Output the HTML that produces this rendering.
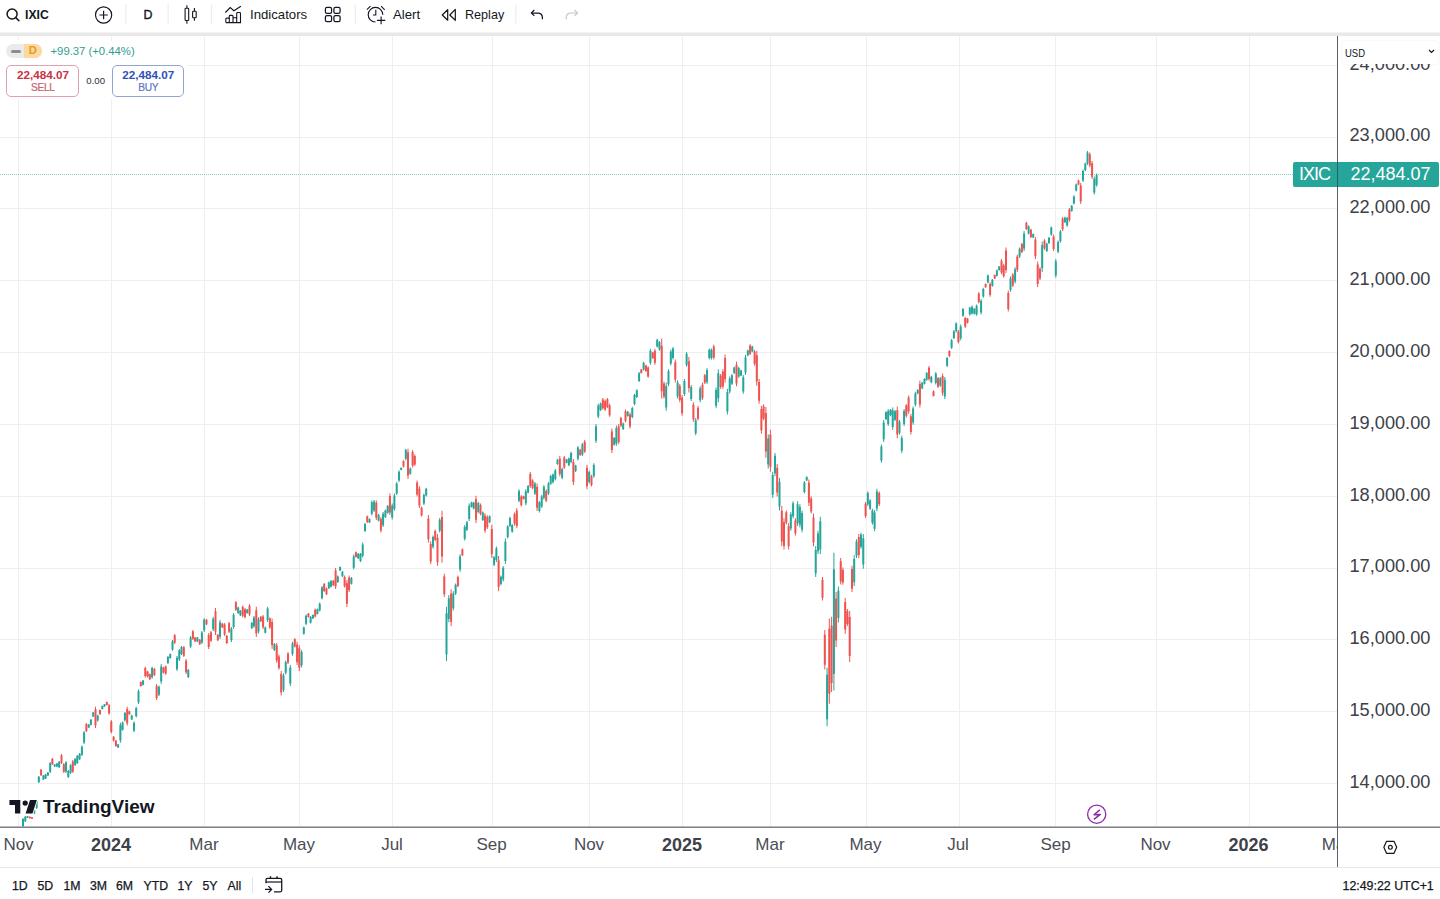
<!DOCTYPE html>
<html><head><meta charset="utf-8">
<style>
*{box-sizing:border-box;margin:0;padding:0}
html,body{width:1440px;height:899px;overflow:hidden;background:#fff;font-family:"Liberation Sans",sans-serif;color:#131722}
.abs{position:absolute}
#svg{position:absolute;left:0;top:0}
.tb{position:absolute;top:0;height:32px;display:flex;align-items:center;font-size:13px;color:#131722;white-space:nowrap}
.sep{position:absolute;top:5px;width:1px;height:19px;background:#e0e3eb}
.pl{position:absolute;right:9.6px;width:120px;text-align:right;font-size:18.2px;line-height:22px;color:#3d4047;white-space:nowrap}
.tl{position:absolute;top:834px;width:80px;text-align:center;font-size:17px;line-height:22px;color:#4a4d56;white-space:nowrap}
.tl.b{font-weight:bold;color:#3e4149;font-size:18px}
.bt{position:absolute;top:876.8px;font-size:12.3px;line-height:18px;color:#131722;white-space:nowrap;-webkit-text-stroke:0.25px #131722}
</style></head><body>
<svg id="svg" width="1440" height="899" viewBox="0 0 1440 899">
 <defs><clipPath id="cc"><rect x="0" y="36" width="1337" height="791"/></clipPath></defs>
 <rect x="0" y="32.5" width="1440" height="3.5" fill="#e8e8e8"/>
 <g clip-path="url(#cc)">
 <rect x="18" y="36" width="1" height="791" fill="#efefef"/><rect x="111" y="36" width="1" height="791" fill="#efefef"/><rect x="204" y="36" width="1" height="791" fill="#efefef"/><rect x="299" y="36" width="1" height="791" fill="#efefef"/><rect x="392" y="36" width="1" height="791" fill="#efefef"/><rect x="492" y="36" width="1" height="791" fill="#efefef"/><rect x="589" y="36" width="1" height="791" fill="#efefef"/><rect x="682" y="36" width="1" height="791" fill="#efefef"/><rect x="770" y="36" width="1" height="791" fill="#efefef"/><rect x="866" y="36" width="1" height="791" fill="#efefef"/><rect x="959" y="36" width="1" height="791" fill="#efefef"/><rect x="1055" y="36" width="1" height="791" fill="#efefef"/><rect x="1156" y="36" width="1" height="791" fill="#efefef"/><rect x="1249" y="36" width="1" height="791" fill="#efefef"/><rect x="0" y="65" width="1337" height="1" fill="#efefef"/><rect x="0" y="137" width="1337" height="1" fill="#efefef"/><rect x="0" y="208" width="1337" height="1" fill="#efefef"/><rect x="0" y="280" width="1337" height="1" fill="#efefef"/><rect x="0" y="352" width="1337" height="1" fill="#efefef"/><rect x="0" y="424" width="1337" height="1" fill="#efefef"/><rect x="0" y="496" width="1337" height="1" fill="#efefef"/><rect x="0" y="568" width="1337" height="1" fill="#efefef"/><rect x="0" y="639" width="1337" height="1" fill="#efefef"/><rect x="0" y="711" width="1337" height="1" fill="#efefef"/><rect x="0" y="783" width="1337" height="1" fill="#efefef"/>
 <line x1="0" y1="174.5" x2="1293" y2="174.5" stroke="#26a69a" stroke-opacity="0.55" stroke-width="1" stroke-dasharray="1 1"/>
 <path fill="#26a69a" d="M22.5 818.0h1.0V827.0h-1.0zM24.8 816.0h1.0V822.0h-1.0zM27.0 816.0h1.0V818.0h-1.0zM33.8 810.0h1.0V814.0h-1.0zM36.1 800.0h1.0V809.0h-1.0zM38.3 776.0h1.0V783.0h-1.0zM42.9 775.0h1.0V780.0h-1.0zM45.1 774.0h1.0V779.0h-1.0zM47.4 772.0h1.0V776.0h-1.0zM49.7 762.0h1.0V773.0h-1.0zM54.2 764.0h1.0V767.0h-1.0zM56.5 763.0h1.0V767.0h-1.0zM58.7 761.0h1.0V768.0h-1.0zM65.5 761.0h1.0V773.0h-1.0zM67.8 770.0h1.0V778.0h-1.0zM70.1 764.0h1.0V774.0h-1.0zM74.6 758.0h1.0V766.0h-1.0zM76.8 755.0h1.0V764.0h-1.0zM79.1 753.0h1.0V760.0h-1.0zM81.4 745.5h1.0V756.0h-1.0zM83.6 731.0h1.0V744.0h-1.0zM88.2 724.0h1.0V728.0h-1.0zM90.4 719.0h1.0V725.5h-1.0zM92.7 712.0h1.0V717.0h-1.0zM97.2 714.8h1.0V721.4h-1.0zM101.8 705.4h1.0V709.4h-1.0zM104.0 704.0h1.0V706.8h-1.0zM117.6 744.0h1.0V748.0h-1.0zM119.9 722.8h1.0V742.8h-1.0zM122.1 721.4h1.0V730.8h-1.0zM124.4 712.0h1.0V721.4h-1.0zM131.2 714.8h1.0V720.0h-1.0zM133.5 721.4h1.0V732.0h-1.0zM135.7 706.8h1.0V717.4h-1.0zM138.0 689.4h1.0V704.0h-1.0zM142.5 680.0h1.0V685.4h-1.0zM151.6 666.7h1.0V678.7h-1.0zM158.4 685.4h1.0V696.0h-1.0zM160.7 664.0h1.0V684.0h-1.0zM167.4 656.0h1.0V664.0h-1.0zM169.7 653.4h1.0V658.7h-1.0zM172.0 640.0h1.0V650.7h-1.0zM176.5 656.0h1.0V671.0h-1.0zM178.8 649.0h1.0V661.0h-1.0zM181.0 646.0h1.0V655.0h-1.0zM187.8 669.0h1.0V678.0h-1.0zM190.1 636.0h1.0V648.0h-1.0zM196.9 637.0h1.0V642.0h-1.0zM201.4 631.0h1.0V644.0h-1.0zM203.7 618.0h1.0V632.0h-1.0zM212.7 617.0h1.0V631.0h-1.0zM219.5 620.0h1.0V639.0h-1.0zM230.9 627.0h1.0V642.0h-1.0zM233.1 613.0h1.0V629.0h-1.0zM237.7 606.7h1.0V613.7h-1.0zM239.9 610.0h1.0V616.0h-1.0zM246.7 609.0h1.0V613.7h-1.0zM251.3 621.9h1.0V628.9h-1.0zM253.5 616.0h1.0V627.7h-1.0zM258.0 617.2h1.0V633.6h-1.0zM264.8 626.5h1.0V633.6h-1.0zM267.1 606.7h1.0V621.9h-1.0zM273.9 642.9h1.0V651.1h-1.0zM283.0 673.3h1.0V692.0h-1.0zM285.2 660.4h1.0V674.4h-1.0zM289.8 665.1h1.0V686.1h-1.0zM292.0 641.7h1.0V655.7h-1.0zM301.1 649.9h1.0V667.4h-1.0zM303.3 626.5h1.0V634.7h-1.0zM305.6 614.6h1.0V625.0h-1.0zM310.1 616.0h1.0V623.6h-1.0zM312.4 614.6h1.0V619.0h-1.0zM316.9 608.6h1.0V614.6h-1.0zM319.2 602.6h1.0V611.6h-1.0zM321.5 586.0h1.0V599.6h-1.0zM328.3 581.6h1.0V589.1h-1.0zM330.5 580.1h1.0V587.6h-1.0zM337.3 575.6h1.0V583.0h-1.0zM339.6 566.6h1.0V571.0h-1.0zM341.9 571.0h1.0V577.0h-1.0zM350.9 577.0h1.0V584.6h-1.0zM353.2 554.6h1.0V569.6h-1.0zM357.7 553.0h1.0V559.0h-1.0zM360.0 553.0h1.0V562.0h-1.0zM362.2 542.6h1.0V557.6h-1.0zM364.5 523.0h1.0V532.0h-1.0zM369.0 518.5h1.0V523.0h-1.0zM371.3 500.5h1.0V515.5h-1.0zM373.6 500.0h1.0V512.0h-1.0zM378.1 514.0h1.0V521.5h-1.0zM382.6 512.0h1.0V527.0h-1.0zM384.9 509.4h1.0V518.0h-1.0zM387.2 505.0h1.0V513.7h-1.0zM391.7 503.6h1.0V519.5h-1.0zM393.9 493.5h1.0V510.8h-1.0zM396.2 482.0h1.0V495.0h-1.0zM398.5 470.3h1.0V482.0h-1.0zM400.7 467.5h1.0V470.3h-1.0zM405.3 448.7h1.0V460.2h-1.0zM409.8 467.5h1.0V474.7h-1.0zM423.4 493.5h1.0V505.0h-1.0zM425.7 487.7h1.0V496.4h-1.0zM432.5 535.4h1.0V548.4h-1.0zM439.2 518.0h1.0V532.5h-1.0zM446.0 606.7h1.0V661.0h-1.0zM448.3 595.0h1.0V622.3h-1.0zM452.8 591.2h1.0V610.6h-1.0zM455.1 583.4h1.0V595.0h-1.0zM459.6 554.2h1.0V571.7h-1.0zM464.2 525.0h1.0V540.6h-1.0zM466.4 521.0h1.0V530.9h-1.0zM468.7 503.6h1.0V521.0h-1.0zM471.0 501.7h1.0V507.5h-1.0zM473.2 501.7h1.0V509.5h-1.0zM477.8 501.7h1.0V513.3h-1.0zM482.3 511.4h1.0V521.1h-1.0zM489.1 515.3h1.0V523.1h-1.0zM493.6 556.1h1.0V565.9h-1.0zM495.9 546.4h1.0V562.0h-1.0zM500.4 575.6h1.0V585.3h-1.0zM502.7 565.9h1.0V581.4h-1.0zM504.9 538.6h1.0V563.9h-1.0zM507.2 525.0h1.0V538.6h-1.0zM509.5 516.8h1.0V526.9h-1.0zM511.7 524.0h1.0V532.7h-1.0zM518.5 489.3h1.0V502.3h-1.0zM525.3 489.3h1.0V505.2h-1.0zM527.6 485.0h1.0V493.6h-1.0zM534.4 482.0h1.0V495.0h-1.0zM538.9 500.9h1.0V512.4h-1.0zM541.2 495.0h1.0V508.0h-1.0zM543.4 485.0h1.0V499.4h-1.0zM548.0 482.0h1.0V495.0h-1.0zM550.2 474.8h1.0V485.0h-1.0zM552.5 473.4h1.0V483.5h-1.0zM554.8 469.0h1.0V480.6h-1.0zM557.0 459.0h1.0V464.7h-1.0zM561.6 467.6h1.0V479.2h-1.0zM566.1 459.0h1.0V463.3h-1.0zM568.4 457.5h1.0V466.2h-1.0zM570.6 451.7h1.0V463.3h-1.0zM575.1 464.7h1.0V472.0h-1.0zM577.4 445.9h1.0V460.4h-1.0zM581.9 443.0h1.0V456.0h-1.0zM588.7 470.5h1.0V483.5h-1.0zM593.3 463.3h1.0V477.7h-1.0zM595.5 424.0h1.0V443.0h-1.0zM597.8 403.8h1.0V418.3h-1.0zM600.1 402.4h1.0V411.0h-1.0zM613.7 437.1h1.0V445.8h-1.0zM615.9 425.5h1.0V445.8h-1.0zM622.7 422.6h1.0V429.9h-1.0zM627.2 411.0h1.0V416.8h-1.0zM631.8 406.7h1.0V418.3h-1.0zM634.0 393.7h1.0V405.3h-1.0zM636.3 389.3h1.0V398.0h-1.0zM638.6 372.0h1.0V382.1h-1.0zM643.1 361.8h1.0V370.5h-1.0zM649.9 348.8h1.0V364.7h-1.0zM656.7 338.7h1.0V347.4h-1.0zM659.0 341.0h1.0V350.8h-1.0zM665.7 382.6h1.0V410.8h-1.0zM668.0 369.2h1.0V386.3h-1.0zM670.3 349.6h1.0V365.5h-1.0zM672.5 347.1h1.0V359.4h-1.0zM677.1 380.2h1.0V398.5h-1.0zM683.9 379.0h1.0V396.0h-1.0zM686.1 352.0h1.0V366.7h-1.0zM690.7 385.0h1.0V401.0h-1.0zM695.2 418.1h1.0V435.3h-1.0zM699.7 386.3h1.0V402.2h-1.0zM706.5 368.0h1.0V383.9h-1.0zM708.8 348.4h1.0V359.4h-1.0zM711.0 348.4h1.0V359.4h-1.0zM715.6 387.5h1.0V408.3h-1.0zM717.8 369.2h1.0V402.2h-1.0zM726.9 388.8h1.0V414.5h-1.0zM729.2 376.5h1.0V393.6h-1.0zM731.4 374.0h1.0V385.0h-1.0zM733.7 366.7h1.0V374.0h-1.0zM738.2 366.7h1.0V377.7h-1.0zM740.5 369.7h1.0V376.3h-1.0zM742.8 375.0h1.0V393.7h-1.0zM745.0 355.0h1.0V375.0h-1.0zM747.3 349.7h1.0V356.3h-1.0zM751.8 345.7h1.0V352.3h-1.0zM767.7 434.3h1.0V468.5h-1.0zM772.2 471.7h1.0V498.0h-1.0zM774.5 453.0h1.0V476.3h-1.0zM779.0 477.9h1.0V510.5h-1.0zM790.3 512.0h1.0V530.8h-1.0zM792.6 501.2h1.0V518.3h-1.0zM797.1 501.2h1.0V526.0h-1.0zM799.4 504.3h1.0V527.6h-1.0zM801.6 510.5h1.0V532.3h-1.0zM803.9 481.0h1.0V493.4h-1.0zM806.2 476.3h1.0V481.0h-1.0zM815.2 546.3h1.0V577.0h-1.0zM817.5 530.8h1.0V554.0h-1.0zM819.8 516.8h1.0V554.0h-1.0zM826.6 667.8h1.0V726.3h-1.0zM833.4 552.7h1.0V690.4h-1.0zM837.9 586.5h1.0V622.4h-1.0zM853.7 555.3h1.0V586.0h-1.0zM856.0 539.3h1.0V558.0h-1.0zM860.5 532.7h1.0V548.7h-1.0zM862.8 534.0h1.0V568.7h-1.0zM867.3 491.3h1.0V506.0h-1.0zM869.6 499.3h1.0V510.0h-1.0zM871.9 508.7h1.0V524.7h-1.0zM874.1 510.0h1.0V531.3h-1.0zM876.4 488.7h1.0V511.3h-1.0zM880.9 444.4h1.0V462.7h-1.0zM883.2 419.9h1.0V441.9h-1.0zM885.5 411.3h1.0V419.9h-1.0zM887.7 408.9h1.0V426.0h-1.0zM890.0 408.9h1.0V416.2h-1.0zM892.2 407.6h1.0V429.7h-1.0zM894.5 410.0h1.0V421.1h-1.0zM899.0 419.9h1.0V434.6h-1.0zM901.3 435.8h1.0V452.9h-1.0zM903.6 408.9h1.0V426.0h-1.0zM912.6 406.4h1.0V424.8h-1.0zM914.9 391.7h1.0V406.4h-1.0zM917.2 389.3h1.0V394.2h-1.0zM921.7 381.9h1.0V389.3h-1.0zM924.0 378.3h1.0V384.4h-1.0zM926.2 372.1h1.0V380.7h-1.0zM930.8 375.8h1.0V383.2h-1.0zM935.3 372.1h1.0V384.4h-1.0zM939.8 377.0h1.0V386.8h-1.0zM944.3 377.0h1.0V399.1h-1.0zM946.6 356.9h1.0V366.9h-1.0zM951.1 339.0h1.0V349.0h-1.0zM953.4 330.1h1.0V339.0h-1.0zM955.7 322.3h1.0V332.4h-1.0zM960.2 324.6h1.0V340.2h-1.0zM962.5 307.9h1.0V316.8h-1.0zM969.3 306.7h1.0V315.7h-1.0zM971.5 305.6h1.0V314.5h-1.0zM973.8 307.9h1.0V314.5h-1.0zM976.1 304.5h1.0V315.7h-1.0zM980.6 299.0h1.0V314.5h-1.0zM982.8 287.8h1.0V297.8h-1.0zM987.4 274.5h1.0V283.4h-1.0zM991.9 278.9h1.0V286.7h-1.0zM996.4 269.6h1.0V276.6h-1.0zM998.7 266.0h1.0V270.7h-1.0zM1010.0 276.6h1.0V291.8h-1.0zM1014.6 267.2h1.0V283.6h-1.0zM1019.1 247.4h1.0V257.9h-1.0zM1023.6 231.0h1.0V250.9h-1.0zM1028.1 225.2h1.0V234.5h-1.0zM1032.7 233.4h1.0V238.0h-1.0zM1041.7 241.5h1.0V271.9h-1.0zM1046.3 242.7h1.0V252.1h-1.0zM1048.5 236.9h1.0V243.9h-1.0zM1050.8 226.4h1.0V235.7h-1.0zM1055.3 259.0h1.0V277.8h-1.0zM1057.6 240.4h1.0V253.2h-1.0zM1059.9 229.9h1.0V242.7h-1.0zM1064.4 216.7h1.0V223.0h-1.0zM1066.7 216.7h1.0V226.7h-1.0zM1071.2 205.0h1.0V211.7h-1.0zM1073.4 195.3h1.0V204.6h-1.0zM1075.7 183.6h1.0V191.4h-1.0zM1082.5 169.6h1.0V182.0h-1.0zM1084.8 162.6h1.0V171.2h-1.0zM1087.0 150.9h1.0V164.9h-1.0zM1093.8 176.6h1.0V194.5h-1.0zM1096.1 173.5h1.0V186.7h-1.0z"/><path fill="#26a69a" d="M22.0 819.1h2.0V825.9h-2.0zM24.3 816.7h2.0V821.3h-2.0zM26.5 816.2h2.0V817.8h-2.0zM33.3 810.5h2.0V813.5h-2.0zM35.6 801.1h2.0V807.9h-2.0zM37.8 776.8h2.0V782.2h-2.0zM42.4 775.6h2.0V779.4h-2.0zM44.6 774.6h2.0V778.4h-2.0zM46.9 772.5h2.0V775.5h-2.0zM49.2 763.3h2.0V771.7h-2.0zM53.7 764.4h2.0V766.6h-2.0zM56.0 763.5h2.0V766.5h-2.0zM58.2 761.8h2.0V767.2h-2.0zM65.0 762.4h2.0V771.6h-2.0zM67.3 771.0h2.0V777.0h-2.0zM69.6 765.2h2.0V772.8h-2.0zM74.1 759.0h2.0V765.0h-2.0zM76.3 756.1h2.0V762.9h-2.0zM78.6 753.8h2.0V759.2h-2.0zM80.9 746.8h2.0V754.7h-2.0zM83.1 732.6h2.0V742.4h-2.0zM87.7 724.5h2.0V727.5h-2.0zM89.9 719.8h2.0V724.7h-2.0zM92.2 712.6h2.0V716.4h-2.0zM96.7 715.6h2.0V720.6h-2.0zM101.3 705.9h2.0V708.9h-2.0zM103.5 704.3h2.0V706.5h-2.0zM117.1 744.5h2.0V747.5h-2.0zM119.4 725.2h2.0V740.4h-2.0zM121.6 722.5h2.0V729.7h-2.0zM123.9 713.1h2.0V720.3h-2.0zM130.7 715.4h2.0V719.4h-2.0zM133.0 722.7h2.0V730.7h-2.0zM135.2 708.1h2.0V716.1h-2.0zM137.5 691.2h2.0V702.2h-2.0zM142.0 680.6h2.0V684.8h-2.0zM151.1 668.1h2.0V677.3h-2.0zM157.9 686.7h2.0V694.7h-2.0zM160.2 666.4h2.0V681.6h-2.0zM166.9 657.0h2.0V663.0h-2.0zM169.2 654.0h2.0V658.1h-2.0zM171.5 641.3h2.0V649.4h-2.0zM176.0 657.8h2.0V669.2h-2.0zM178.3 650.4h2.0V659.6h-2.0zM180.5 647.1h2.0V653.9h-2.0zM187.3 670.1h2.0V676.9h-2.0zM189.6 637.4h2.0V646.6h-2.0zM196.4 637.6h2.0V641.4h-2.0zM200.9 632.6h2.0V642.4h-2.0zM203.2 619.7h2.0V630.3h-2.0zM212.2 618.7h2.0V629.3h-2.0zM219.0 622.3h2.0V636.7h-2.0zM230.4 628.8h2.0V640.2h-2.0zM232.6 614.9h2.0V627.1h-2.0zM237.2 607.5h2.0V612.9h-2.0zM239.4 610.7h2.0V615.3h-2.0zM246.2 609.6h2.0V613.1h-2.0zM250.8 622.7h2.0V628.1h-2.0zM253.0 617.4h2.0V626.3h-2.0zM257.5 619.2h2.0V631.6h-2.0zM264.3 627.4h2.0V632.7h-2.0zM266.6 608.5h2.0V620.1h-2.0zM273.4 643.9h2.0V650.1h-2.0zM282.5 675.5h2.0V689.8h-2.0zM284.7 662.1h2.0V672.7h-2.0zM289.3 667.6h2.0V683.6h-2.0zM291.5 643.4h2.0V654.0h-2.0zM300.6 652.0h2.0V665.3h-2.0zM302.8 627.5h2.0V633.7h-2.0zM305.1 615.8h2.0V623.8h-2.0zM309.6 616.9h2.0V622.7h-2.0zM311.9 615.1h2.0V618.5h-2.0zM316.4 609.3h2.0V613.9h-2.0zM318.7 603.7h2.0V610.5h-2.0zM321.0 587.6h2.0V598.0h-2.0zM327.8 582.5h2.0V588.2h-2.0zM330.0 581.0h2.0V586.7h-2.0zM336.8 576.5h2.0V582.1h-2.0zM339.1 567.1h2.0V570.5h-2.0zM341.4 571.7h2.0V576.3h-2.0zM350.4 577.9h2.0V583.7h-2.0zM352.7 556.4h2.0V567.8h-2.0zM357.2 553.7h2.0V558.3h-2.0zM359.5 554.1h2.0V560.9h-2.0zM361.7 544.4h2.0V555.8h-2.0zM364.0 524.1h2.0V530.9h-2.0zM368.5 519.0h2.0V522.5h-2.0zM370.8 502.3h2.0V513.7h-2.0zM373.1 501.4h2.0V510.6h-2.0zM377.6 514.9h2.0V520.6h-2.0zM382.1 513.8h2.0V525.2h-2.0zM384.4 510.4h2.0V517.0h-2.0zM386.7 506.0h2.0V512.7h-2.0zM391.2 505.5h2.0V517.6h-2.0zM393.4 495.6h2.0V508.7h-2.0zM395.7 483.6h2.0V493.4h-2.0zM398.0 471.7h2.0V480.6h-2.0zM400.2 467.8h2.0V470.0h-2.0zM404.8 450.1h2.0V458.8h-2.0zM409.3 468.4h2.0V473.8h-2.0zM422.9 494.9h2.0V503.6h-2.0zM425.2 488.7h2.0V495.4h-2.0zM432.0 537.0h2.0V546.8h-2.0zM438.7 519.7h2.0V530.8h-2.0zM445.5 613.2h2.0V654.5h-2.0zM447.8 598.3h2.0V619.0h-2.0zM452.3 593.5h2.0V608.3h-2.0zM454.6 584.8h2.0V593.6h-2.0zM459.1 556.3h2.0V569.6h-2.0zM463.7 526.9h2.0V538.7h-2.0zM465.9 522.2h2.0V529.7h-2.0zM468.2 505.7h2.0V518.9h-2.0zM470.5 502.4h2.0V506.8h-2.0zM472.7 502.6h2.0V508.6h-2.0zM477.3 503.1h2.0V511.9h-2.0zM481.8 512.6h2.0V519.9h-2.0zM488.6 516.2h2.0V522.2h-2.0zM493.1 557.3h2.0V564.7h-2.0zM495.4 548.3h2.0V560.1h-2.0zM499.9 576.8h2.0V584.1h-2.0zM502.2 567.8h2.0V579.5h-2.0zM504.4 541.6h2.0V560.9h-2.0zM506.7 526.6h2.0V537.0h-2.0zM509.0 518.0h2.0V525.7h-2.0zM511.2 525.0h2.0V531.7h-2.0zM518.0 490.9h2.0V500.7h-2.0zM524.8 491.2h2.0V503.3h-2.0zM527.1 486.0h2.0V492.6h-2.0zM533.9 483.6h2.0V493.4h-2.0zM538.4 502.3h2.0V511.0h-2.0zM540.7 496.6h2.0V506.4h-2.0zM542.9 486.7h2.0V497.7h-2.0zM547.5 483.6h2.0V493.4h-2.0zM549.7 476.0h2.0V483.8h-2.0zM552.0 474.6h2.0V482.3h-2.0zM554.3 470.4h2.0V479.2h-2.0zM556.5 459.7h2.0V464.0h-2.0zM561.1 469.0h2.0V477.8h-2.0zM565.6 459.5h2.0V462.8h-2.0zM567.9 458.5h2.0V465.2h-2.0zM570.1 453.1h2.0V461.9h-2.0zM574.6 465.6h2.0V471.1h-2.0zM576.9 447.6h2.0V458.7h-2.0zM581.4 444.6h2.0V454.4h-2.0zM588.2 472.1h2.0V481.9h-2.0zM592.8 465.0h2.0V476.0h-2.0zM595.0 426.3h2.0V440.7h-2.0zM597.3 405.5h2.0V416.6h-2.0zM599.6 403.4h2.0V410.0h-2.0zM613.2 438.1h2.0V444.8h-2.0zM615.4 427.9h2.0V443.4h-2.0zM622.2 423.5h2.0V429.0h-2.0zM626.7 411.7h2.0V416.1h-2.0zM631.3 408.1h2.0V416.9h-2.0zM633.5 395.1h2.0V403.9h-2.0zM635.8 390.3h2.0V397.0h-2.0zM638.1 373.2h2.0V380.9h-2.0zM642.6 362.8h2.0V369.5h-2.0zM649.4 350.7h2.0V362.8h-2.0zM656.2 339.7h2.0V346.4h-2.0zM658.5 342.2h2.0V349.6h-2.0zM665.2 386.0h2.0V407.4h-2.0zM667.5 371.3h2.0V384.2h-2.0zM669.8 351.5h2.0V363.6h-2.0zM672.0 348.6h2.0V357.9h-2.0zM676.6 382.4h2.0V396.3h-2.0zM683.4 381.0h2.0V394.0h-2.0zM685.6 353.8h2.0V364.9h-2.0zM690.2 386.9h2.0V399.1h-2.0zM694.7 420.2h2.0V433.2h-2.0zM699.2 388.2h2.0V400.3h-2.0zM706.0 369.9h2.0V382.0h-2.0zM708.3 349.7h2.0V358.1h-2.0zM710.5 349.7h2.0V358.1h-2.0zM715.1 390.0h2.0V405.8h-2.0zM717.3 373.2h2.0V398.2h-2.0zM726.4 391.9h2.0V411.4h-2.0zM728.7 378.6h2.0V391.5h-2.0zM730.9 375.3h2.0V383.7h-2.0zM733.2 367.6h2.0V373.1h-2.0zM737.7 368.0h2.0V376.4h-2.0zM740.0 370.5h2.0V375.5h-2.0zM742.3 377.2h2.0V391.5h-2.0zM744.5 357.4h2.0V372.6h-2.0zM746.8 350.5h2.0V355.5h-2.0zM751.3 346.5h2.0V351.5h-2.0zM767.2 438.4h2.0V464.4h-2.0zM771.7 474.9h2.0V494.8h-2.0zM774.0 455.8h2.0V473.5h-2.0zM778.5 481.8h2.0V506.6h-2.0zM789.8 514.3h2.0V528.5h-2.0zM792.1 503.3h2.0V516.2h-2.0zM796.6 504.2h2.0V523.0h-2.0zM798.9 507.1h2.0V524.8h-2.0zM801.1 513.1h2.0V529.7h-2.0zM803.4 482.5h2.0V491.9h-2.0zM805.7 476.9h2.0V480.4h-2.0zM814.7 550.0h2.0V573.3h-2.0zM817.0 533.6h2.0V551.2h-2.0zM819.3 521.3h2.0V549.5h-2.0zM826.1 674.8h2.0V719.3h-2.0zM832.9 569.2h2.0V673.9h-2.0zM837.4 590.8h2.0V618.1h-2.0zM853.2 559.0h2.0V582.3h-2.0zM855.5 541.5h2.0V555.8h-2.0zM860.0 534.6h2.0V546.8h-2.0zM862.3 538.2h2.0V564.5h-2.0zM866.8 493.1h2.0V504.2h-2.0zM869.1 500.6h2.0V508.7h-2.0zM871.4 510.6h2.0V522.8h-2.0zM873.6 512.6h2.0V528.7h-2.0zM875.9 491.4h2.0V508.6h-2.0zM880.4 446.6h2.0V460.5h-2.0zM882.7 422.5h2.0V439.3h-2.0zM885.0 412.3h2.0V418.9h-2.0zM887.2 411.0h2.0V423.9h-2.0zM889.5 409.8h2.0V415.3h-2.0zM891.7 410.3h2.0V427.0h-2.0zM894.0 411.3h2.0V419.8h-2.0zM898.5 421.7h2.0V432.8h-2.0zM900.8 437.9h2.0V450.8h-2.0zM903.1 411.0h2.0V423.9h-2.0zM912.1 408.6h2.0V422.6h-2.0zM914.4 393.5h2.0V404.6h-2.0zM916.7 389.9h2.0V393.6h-2.0zM921.2 382.8h2.0V388.4h-2.0zM923.5 379.0h2.0V383.7h-2.0zM925.7 373.1h2.0V379.7h-2.0zM930.3 376.7h2.0V382.3h-2.0zM934.8 373.6h2.0V382.9h-2.0zM939.3 378.2h2.0V385.6h-2.0zM943.8 379.7h2.0V396.4h-2.0zM946.1 358.1h2.0V365.7h-2.0zM950.6 340.2h2.0V347.8h-2.0zM952.9 331.2h2.0V337.9h-2.0zM955.2 323.5h2.0V331.2h-2.0zM959.7 326.5h2.0V338.3h-2.0zM962.0 309.0h2.0V315.7h-2.0zM968.8 307.8h2.0V314.6h-2.0zM971.0 306.7h2.0V313.4h-2.0zM973.3 308.7h2.0V313.7h-2.0zM975.6 305.8h2.0V314.4h-2.0zM980.1 300.9h2.0V312.6h-2.0zM982.3 289.0h2.0V296.6h-2.0zM986.9 275.6h2.0V282.3h-2.0zM991.4 279.8h2.0V285.8h-2.0zM995.9 270.4h2.0V275.8h-2.0zM998.2 266.6h2.0V270.1h-2.0zM1009.5 278.4h2.0V290.0h-2.0zM1014.1 269.2h2.0V281.6h-2.0zM1018.6 248.7h2.0V256.6h-2.0zM1023.1 233.4h2.0V248.5h-2.0zM1027.6 226.3h2.0V233.4h-2.0zM1032.2 234.0h2.0V237.4h-2.0zM1041.2 245.1h2.0V268.3h-2.0zM1045.8 243.8h2.0V251.0h-2.0zM1048.0 237.7h2.0V243.1h-2.0zM1050.3 227.5h2.0V234.6h-2.0zM1054.8 261.3h2.0V275.5h-2.0zM1057.1 241.9h2.0V251.7h-2.0zM1059.4 231.4h2.0V241.2h-2.0zM1063.9 217.5h2.0V222.2h-2.0zM1066.2 217.9h2.0V225.5h-2.0zM1070.7 205.8h2.0V210.9h-2.0zM1072.9 196.4h2.0V203.5h-2.0zM1075.2 184.5h2.0V190.5h-2.0zM1082.0 171.1h2.0V180.5h-2.0zM1084.3 163.6h2.0V170.2h-2.0zM1086.5 152.6h2.0V163.2h-2.0zM1093.3 178.7h2.0V192.4h-2.0zM1095.6 175.1h2.0V185.1h-2.0z"/><path fill="#ef5350" d="M29.3 816.5h1.0V818.5h-1.0zM31.5 817.0h1.0V819.0h-1.0zM40.6 769.0h1.0V776.0h-1.0zM51.9 758.0h1.0V765.0h-1.0zM61.0 754.0h1.0V764.0h-1.0zM63.3 763.0h1.0V773.0h-1.0zM72.3 760.0h1.0V773.0h-1.0zM85.9 723.0h1.0V732.0h-1.0zM95.0 706.8h1.0V728.0h-1.0zM99.5 709.4h1.0V714.8h-1.0zM106.3 701.4h1.0V705.4h-1.0zM108.6 704.0h1.0V714.8h-1.0zM110.8 720.0h1.0V733.5h-1.0zM113.1 736.0h1.0V741.5h-1.0zM115.4 740.0h1.0V746.8h-1.0zM126.7 706.8h1.0V725.4h-1.0zM128.9 710.8h1.0V714.8h-1.0zM140.3 681.4h1.0V686.7h-1.0zM144.8 666.7h1.0V677.4h-1.0zM147.1 670.7h1.0V677.4h-1.0zM149.3 673.4h1.0V680.0h-1.0zM153.9 668.0h1.0V676.0h-1.0zM156.1 684.0h1.0V700.0h-1.0zM162.9 666.7h1.0V673.4h-1.0zM165.2 665.4h1.0V674.7h-1.0zM174.2 634.0h1.0V644.0h-1.0zM183.3 646.0h1.0V657.0h-1.0zM185.6 659.0h1.0V674.0h-1.0zM192.4 630.0h1.0V640.0h-1.0zM194.6 637.0h1.0V642.0h-1.0zM199.2 639.0h1.0V645.0h-1.0zM206.0 619.0h1.0V625.0h-1.0zM208.2 633.0h1.0V649.0h-1.0zM210.5 631.0h1.0V642.0h-1.0zM215.0 608.0h1.0V635.0h-1.0zM217.3 634.0h1.0V641.0h-1.0zM221.8 623.0h1.0V628.0h-1.0zM224.1 623.0h1.0V636.0h-1.0zM226.3 635.0h1.0V644.0h-1.0zM228.6 622.0h1.0V633.0h-1.0zM235.4 601.0h1.0V611.0h-1.0zM242.2 605.5h1.0V617.2h-1.0zM244.5 607.9h1.0V618.4h-1.0zM249.0 604.3h1.0V616.0h-1.0zM255.8 606.7h1.0V637.0h-1.0zM260.3 616.0h1.0V621.9h-1.0zM262.6 614.9h1.0V628.9h-1.0zM269.4 617.2h1.0V628.9h-1.0zM271.6 618.4h1.0V648.7h-1.0zM276.2 642.9h1.0V662.8h-1.0zM278.4 654.6h1.0V669.8h-1.0zM280.7 670.9h1.0V695.5h-1.0zM287.5 652.2h1.0V663.9h-1.0zM294.3 638.2h1.0V647.6h-1.0zM296.6 641.7h1.0V665.1h-1.0zM298.8 645.2h1.0V670.9h-1.0zM307.9 613.0h1.0V617.6h-1.0zM314.7 608.6h1.0V617.6h-1.0zM323.7 583.0h1.0V592.0h-1.0zM326.0 587.6h1.0V595.1h-1.0zM332.8 580.1h1.0V586.0h-1.0zM335.1 568.0h1.0V589.1h-1.0zM344.1 575.6h1.0V587.6h-1.0zM346.4 580.0h1.0V607.0h-1.0zM348.6 575.6h1.0V592.0h-1.0zM355.4 551.6h1.0V557.6h-1.0zM366.8 515.5h1.0V523.0h-1.0zM375.8 500.5h1.0V520.0h-1.0zM380.4 517.0h1.0V532.5h-1.0zM389.4 493.5h1.0V515.0h-1.0zM403.0 460.2h1.0V467.5h-1.0zM407.5 448.7h1.0V479.0h-1.0zM412.1 450.0h1.0V467.5h-1.0zM414.3 454.5h1.0V466.0h-1.0zM416.6 480.5h1.0V496.4h-1.0zM418.9 486.2h1.0V508.0h-1.0zM421.1 506.5h1.0V516.6h-1.0zM427.9 515.1h1.0V542.6h-1.0zM430.2 541.2h1.0V564.3h-1.0zM434.7 529.6h1.0V541.2h-1.0zM437.0 534.0h1.0V565.7h-1.0zM441.5 510.8h1.0V562.8h-1.0zM443.8 573.7h1.0V597.0h-1.0zM450.6 589.2h1.0V626.2h-1.0zM457.4 575.6h1.0V587.3h-1.0zM461.9 548.4h1.0V556.1h-1.0zM475.5 495.8h1.0V523.0h-1.0zM480.0 503.6h1.0V515.3h-1.0zM484.5 513.3h1.0V532.8h-1.0zM486.8 515.3h1.0V528.9h-1.0zM491.3 525.0h1.0V558.1h-1.0zM498.1 556.1h1.0V591.2h-1.0zM514.0 512.4h1.0V525.4h-1.0zM516.3 508.0h1.0V528.3h-1.0zM520.8 495.0h1.0V506.6h-1.0zM523.1 495.8h1.0V499.4h-1.0zM529.8 472.0h1.0V487.8h-1.0zM532.1 479.2h1.0V489.3h-1.0zM536.6 483.5h1.0V511.0h-1.0zM545.7 489.3h1.0V502.3h-1.0zM559.3 456.0h1.0V476.3h-1.0zM563.8 456.0h1.0V469.0h-1.0zM572.9 459.0h1.0V485.0h-1.0zM579.7 448.8h1.0V456.0h-1.0zM584.2 440.1h1.0V453.1h-1.0zM586.5 464.7h1.0V489.3h-1.0zM591.0 474.8h1.0V486.4h-1.0zM602.3 398.0h1.0V409.6h-1.0zM604.6 399.5h1.0V411.0h-1.0zM606.9 398.0h1.0V408.1h-1.0zM609.1 403.8h1.0V416.8h-1.0zM611.4 428.4h1.0V453.0h-1.0zM618.2 424.0h1.0V444.3h-1.0zM620.4 416.8h1.0V427.0h-1.0zM625.0 409.6h1.0V422.6h-1.0zM629.5 412.5h1.0V428.4h-1.0zM640.8 369.0h1.0V373.4h-1.0zM645.4 364.7h1.0V372.0h-1.0zM647.6 366.2h1.0V377.8h-1.0zM652.2 351.7h1.0V358.9h-1.0zM654.4 348.8h1.0V364.7h-1.0zM661.2 338.6h1.0V398.5h-1.0zM663.5 381.4h1.0V398.5h-1.0zM674.8 359.4h1.0V382.6h-1.0zM679.3 383.9h1.0V402.2h-1.0zM681.6 394.9h1.0V415.7h-1.0zM688.4 356.9h1.0V392.4h-1.0zM692.9 402.2h1.0V421.8h-1.0zM697.5 405.9h1.0V420.6h-1.0zM702.0 382.6h1.0V399.8h-1.0zM704.3 374.0h1.0V383.9h-1.0zM713.3 344.7h1.0V359.4h-1.0zM720.1 374.0h1.0V388.8h-1.0zM722.4 369.2h1.0V388.8h-1.0zM724.6 354.5h1.0V382.6h-1.0zM736.0 361.8h1.0V386.3h-1.0zM749.6 344.3h1.0V355.0h-1.0zM754.1 349.7h1.0V365.7h-1.0zM756.3 351.0h1.0V385.7h-1.0zM758.6 379.0h1.0V403.7h-1.0zM760.9 405.7h1.0V433.7h-1.0zM763.1 404.3h1.0V420.3h-1.0zM765.4 407.0h1.0V457.7h-1.0zM769.9 429.7h1.0V471.7h-1.0zM776.7 463.9h1.0V496.5h-1.0zM781.3 505.9h1.0V546.3h-1.0zM783.5 518.3h1.0V549.4h-1.0zM785.8 510.5h1.0V524.5h-1.0zM788.1 523.0h1.0V549.4h-1.0zM794.9 518.3h1.0V535.4h-1.0zM808.4 479.4h1.0V505.9h-1.0zM810.7 496.5h1.0V513.6h-1.0zM813.0 513.6h1.0V546.3h-1.0zM822.0 577.0h1.0V600.6h-1.0zM824.3 630.0h1.0V669.6h-1.0zM828.8 618.6h1.0V703.7h-1.0zM831.1 616.7h1.0V692.0h-1.0zM835.6 592.0h1.0V647.0h-1.0zM840.2 558.0h1.0V584.6h-1.0zM842.4 567.6h1.0V584.7h-1.0zM844.7 597.8h1.0V633.7h-1.0zM846.9 609.0h1.0V626.0h-1.0zM849.2 611.0h1.0V662.0h-1.0zM851.5 565.7h1.0V592.0h-1.0zM858.3 534.0h1.0V558.0h-1.0zM865.1 502.0h1.0V518.0h-1.0zM878.7 491.3h1.0V506.0h-1.0zM896.8 406.4h1.0V438.2h-1.0zM905.8 404.0h1.0V417.4h-1.0zM908.1 395.4h1.0V413.8h-1.0zM910.4 413.8h1.0V434.6h-1.0zM919.4 380.7h1.0V407.6h-1.0zM928.5 366.0h1.0V380.7h-1.0zM933.0 390.5h1.0V396.6h-1.0zM937.5 377.0h1.0V388.0h-1.0zM942.1 373.4h1.0V395.4h-1.0zM948.9 350.2h1.0V356.9h-1.0zM957.9 330.1h1.0V343.5h-1.0zM964.7 316.8h1.0V327.9h-1.0zM967.0 317.9h1.0V323.5h-1.0zM978.3 292.3h1.0V303.4h-1.0zM985.1 283.4h1.0V287.8h-1.0zM989.6 282.2h1.0V296.7h-1.0zM994.2 274.5h1.0V278.9h-1.0zM1001.0 259.0h1.0V274.3h-1.0zM1003.2 263.7h1.0V277.8h-1.0zM1005.5 247.4h1.0V273.1h-1.0zM1007.8 290.6h1.0V311.6h-1.0zM1012.3 273.1h1.0V287.1h-1.0zM1016.8 254.4h1.0V271.9h-1.0zM1021.4 242.7h1.0V253.2h-1.0zM1025.9 221.7h1.0V229.9h-1.0zM1030.4 228.7h1.0V238.0h-1.0zM1034.9 236.9h1.0V259.0h-1.0zM1037.2 261.4h1.0V287.1h-1.0zM1039.5 267.2h1.0V280.0h-1.0zM1044.0 239.2h1.0V249.7h-1.0zM1053.1 234.5h1.0V250.9h-1.0zM1062.1 217.0h1.0V231.0h-1.0zM1068.9 208.0h1.0V221.7h-1.0zM1078.0 179.7h1.0V185.2h-1.0zM1080.2 183.0h1.0V203.9h-1.0zM1089.3 152.5h1.0V167.3h-1.0zM1091.6 161.0h1.0V179.0h-1.0z"/><path fill="#ef5350" d="M28.8 816.7h2.0V818.3h-2.0zM31.0 817.2h2.0V818.8h-2.0zM40.1 769.8h2.0V775.2h-2.0zM51.4 758.8h2.0V764.2h-2.0zM60.5 755.2h2.0V762.8h-2.0zM62.8 764.2h2.0V771.8h-2.0zM71.8 761.6h2.0V771.4h-2.0zM85.4 724.1h2.0V730.9h-2.0zM94.5 709.3h2.0V725.5h-2.0zM99.0 710.0h2.0V714.2h-2.0zM105.8 701.9h2.0V704.9h-2.0zM108.1 705.3h2.0V713.5h-2.0zM110.3 721.6h2.0V731.9h-2.0zM112.6 736.7h2.0V740.8h-2.0zM114.9 740.8h2.0V746.0h-2.0zM126.2 709.0h2.0V723.2h-2.0zM128.4 711.3h2.0V714.3h-2.0zM139.8 682.0h2.0V686.1h-2.0zM144.3 668.0h2.0V676.1h-2.0zM146.6 671.5h2.0V676.6h-2.0zM148.8 674.2h2.0V679.2h-2.0zM153.4 669.0h2.0V675.0h-2.0zM155.6 685.9h2.0V698.1h-2.0zM162.4 667.5h2.0V672.6h-2.0zM164.7 666.5h2.0V673.6h-2.0zM173.7 635.2h2.0V642.8h-2.0zM182.8 647.3h2.0V655.7h-2.0zM185.1 660.8h2.0V672.2h-2.0zM191.9 631.2h2.0V638.8h-2.0zM194.1 637.6h2.0V641.4h-2.0zM198.7 639.7h2.0V644.3h-2.0zM205.5 619.7h2.0V624.3h-2.0zM207.7 634.9h2.0V647.1h-2.0zM210.0 632.3h2.0V640.7h-2.0zM214.5 611.2h2.0V631.8h-2.0zM216.8 634.8h2.0V640.2h-2.0zM221.3 623.6h2.0V627.4h-2.0zM223.6 624.6h2.0V634.4h-2.0zM225.8 636.1h2.0V642.9h-2.0zM228.1 623.3h2.0V631.7h-2.0zM234.9 602.2h2.0V609.8h-2.0zM241.7 606.9h2.0V615.8h-2.0zM244.0 609.2h2.0V617.1h-2.0zM248.5 605.7h2.0V614.6h-2.0zM255.3 610.3h2.0V633.4h-2.0zM259.8 616.7h2.0V621.2h-2.0zM262.1 616.6h2.0V627.2h-2.0zM268.9 618.6h2.0V627.5h-2.0zM271.1 622.0h2.0V645.1h-2.0zM275.7 645.3h2.0V660.4h-2.0zM277.9 656.4h2.0V668.0h-2.0zM280.2 673.9h2.0V692.5h-2.0zM287.0 653.6h2.0V662.5h-2.0zM293.8 639.3h2.0V646.5h-2.0zM296.1 644.5h2.0V662.3h-2.0zM298.3 648.3h2.0V667.8h-2.0zM307.4 613.6h2.0V617.0h-2.0zM314.2 609.7h2.0V616.5h-2.0zM323.2 584.1h2.0V590.9h-2.0zM325.5 588.5h2.0V594.2h-2.0zM332.3 580.8h2.0V585.3h-2.0zM334.6 570.5h2.0V586.6h-2.0zM343.6 577.0h2.0V586.2h-2.0zM345.9 583.2h2.0V603.8h-2.0zM348.1 577.6h2.0V590.0h-2.0zM354.9 552.3h2.0V556.9h-2.0zM366.3 516.4h2.0V522.1h-2.0zM375.3 502.8h2.0V517.7h-2.0zM379.9 518.9h2.0V530.6h-2.0zM388.9 496.1h2.0V512.4h-2.0zM402.5 461.1h2.0V466.6h-2.0zM407.0 452.3h2.0V475.4h-2.0zM411.6 452.1h2.0V465.4h-2.0zM413.8 455.9h2.0V464.6h-2.0zM416.1 482.4h2.0V494.5h-2.0zM418.4 488.8h2.0V505.4h-2.0zM420.6 507.7h2.0V515.4h-2.0zM427.4 518.4h2.0V539.3h-2.0zM429.7 544.0h2.0V561.5h-2.0zM434.2 531.0h2.0V539.8h-2.0zM436.5 537.8h2.0V561.9h-2.0zM441.0 517.0h2.0V556.6h-2.0zM443.3 576.5h2.0V594.2h-2.0zM450.1 593.6h2.0V621.8h-2.0zM456.9 577.0h2.0V585.9h-2.0zM461.4 549.3h2.0V555.2h-2.0zM475.0 499.1h2.0V519.7h-2.0zM479.5 505.0h2.0V513.9h-2.0zM484.0 515.6h2.0V530.5h-2.0zM486.3 516.9h2.0V527.3h-2.0zM490.8 529.0h2.0V554.1h-2.0zM497.6 560.3h2.0V587.0h-2.0zM513.5 514.0h2.0V523.8h-2.0zM515.8 510.4h2.0V525.9h-2.0zM520.3 496.4h2.0V505.2h-2.0zM522.6 496.2h2.0V499.0h-2.0zM529.3 473.9h2.0V485.9h-2.0zM531.6 480.4h2.0V488.1h-2.0zM536.1 486.8h2.0V507.7h-2.0zM545.2 490.9h2.0V500.7h-2.0zM558.8 458.4h2.0V473.9h-2.0zM563.3 457.6h2.0V467.4h-2.0zM572.4 462.1h2.0V481.9h-2.0zM579.2 449.7h2.0V455.1h-2.0zM583.7 441.7h2.0V451.5h-2.0zM586.0 467.7h2.0V486.3h-2.0zM590.5 476.2h2.0V485.0h-2.0zM601.8 399.4h2.0V408.2h-2.0zM604.1 400.9h2.0V409.6h-2.0zM606.4 399.2h2.0V406.9h-2.0zM608.6 405.4h2.0V415.2h-2.0zM610.9 431.4h2.0V450.0h-2.0zM617.7 426.4h2.0V441.9h-2.0zM619.9 418.0h2.0V425.8h-2.0zM624.5 411.2h2.0V421.0h-2.0zM629.0 414.4h2.0V426.5h-2.0zM640.3 369.5h2.0V372.9h-2.0zM644.9 365.6h2.0V371.1h-2.0zM647.1 367.6h2.0V376.4h-2.0zM651.7 352.6h2.0V358.0h-2.0zM653.9 350.7h2.0V362.8h-2.0zM660.7 345.8h2.0V391.3h-2.0zM663.0 383.5h2.0V396.4h-2.0zM674.3 362.2h2.0V379.8h-2.0zM678.8 386.1h2.0V400.0h-2.0zM681.1 397.4h2.0V413.2h-2.0zM687.9 361.2h2.0V388.1h-2.0zM692.4 404.6h2.0V419.4h-2.0zM697.0 407.7h2.0V418.8h-2.0zM701.5 384.7h2.0V397.7h-2.0zM703.8 375.2h2.0V382.7h-2.0zM712.8 346.5h2.0V357.6h-2.0zM719.6 375.8h2.0V387.0h-2.0zM721.9 371.6h2.0V386.4h-2.0zM724.1 357.9h2.0V379.2h-2.0zM735.5 364.7h2.0V383.4h-2.0zM749.1 345.6h2.0V353.7h-2.0zM753.6 351.6h2.0V363.8h-2.0zM755.8 355.2h2.0V381.5h-2.0zM758.1 382.0h2.0V400.7h-2.0zM760.4 409.1h2.0V430.3h-2.0zM762.6 406.2h2.0V418.4h-2.0zM764.9 413.1h2.0V451.6h-2.0zM769.4 434.7h2.0V466.7h-2.0zM776.2 467.8h2.0V492.6h-2.0zM780.8 510.7h2.0V541.5h-2.0zM783.0 522.0h2.0V545.7h-2.0zM785.3 512.2h2.0V522.8h-2.0zM787.6 526.2h2.0V546.2h-2.0zM794.4 520.4h2.0V533.3h-2.0zM807.9 482.6h2.0V502.7h-2.0zM810.2 498.6h2.0V511.5h-2.0zM812.5 517.5h2.0V542.4h-2.0zM821.5 579.8h2.0V597.8h-2.0zM823.8 634.8h2.0V664.8h-2.0zM828.3 628.8h2.0V693.5h-2.0zM830.6 625.7h2.0V683.0h-2.0zM835.1 598.6h2.0V640.4h-2.0zM839.7 561.2h2.0V581.4h-2.0zM841.9 569.7h2.0V582.6h-2.0zM844.2 602.1h2.0V629.4h-2.0zM846.4 611.0h2.0V624.0h-2.0zM848.7 617.1h2.0V655.9h-2.0zM851.0 568.9h2.0V588.8h-2.0zM857.8 536.9h2.0V555.1h-2.0zM864.6 503.9h2.0V516.1h-2.0zM878.2 493.1h2.0V504.2h-2.0zM896.3 410.2h2.0V434.4h-2.0zM905.3 405.6h2.0V415.8h-2.0zM907.6 397.6h2.0V411.6h-2.0zM909.9 416.3h2.0V432.1h-2.0zM918.9 383.9h2.0V404.4h-2.0zM928.0 367.8h2.0V378.9h-2.0zM932.5 391.2h2.0V395.9h-2.0zM937.0 378.3h2.0V386.7h-2.0zM941.6 376.0h2.0V392.8h-2.0zM948.4 351.0h2.0V356.1h-2.0zM957.4 331.7h2.0V341.9h-2.0zM964.2 318.1h2.0V326.6h-2.0zM966.5 318.6h2.0V322.8h-2.0zM977.8 293.6h2.0V302.1h-2.0zM984.6 283.9h2.0V287.3h-2.0zM989.1 283.9h2.0V295.0h-2.0zM993.7 275.0h2.0V278.4h-2.0zM1000.5 260.8h2.0V272.5h-2.0zM1002.7 265.4h2.0V276.1h-2.0zM1005.0 250.5h2.0V270.0h-2.0zM1007.3 293.1h2.0V309.1h-2.0zM1011.8 274.8h2.0V285.4h-2.0zM1016.3 256.5h2.0V269.8h-2.0zM1020.9 244.0h2.0V251.9h-2.0zM1025.4 222.7h2.0V228.9h-2.0zM1029.9 229.8h2.0V236.9h-2.0zM1034.4 239.6h2.0V256.3h-2.0zM1036.7 264.5h2.0V284.0h-2.0zM1039.0 268.7h2.0V278.5h-2.0zM1043.5 240.5h2.0V248.4h-2.0zM1052.6 236.5h2.0V248.9h-2.0zM1061.6 218.7h2.0V229.3h-2.0zM1068.4 209.6h2.0V220.1h-2.0zM1077.5 180.4h2.0V184.5h-2.0zM1079.7 185.5h2.0V201.4h-2.0zM1088.8 154.3h2.0V165.5h-2.0zM1091.1 163.2h2.0V176.8h-2.0z"/>
 </g>
 <rect x="0" y="826.5" width="1440" height="1.4" fill="#74767e"/>
 <rect x="1337" y="36" width="1" height="832" fill="#5d606b"/>
 <rect x="0" y="867" width="1440" height="1" fill="#e6e7ea"/>
</svg>

<!-- toolbar -->
<svg class="abs" style="left:0;top:0" width="600" height="32" viewBox="0 0 600 32" fill="none" stroke="#131722">
 <circle cx="12.1" cy="14" r="5" stroke-width="1.5"/><path d="M15.8 17.6 L18.9 20.7" stroke-width="1.6" stroke-linecap="round"/>
 <circle cx="103.6" cy="15" r="8.1" stroke-width="1.15"/><path d="M103.6 10.8v8.4M99.4 15h8.4" stroke-width="1.2"/>
 <path d="M125.9 4v20M168.1 4v20M211.5 4.2v19.5M355.3 4.4v19M515.8 4.4v19" stroke="#ededed" stroke-width="1.2"/>
 <path d="M186.9 5.2v2.8M186.9 20.6v3.1M194.4 8.1v3.1M194.4 17.7v3.1" stroke-width="1.1"/>
 <rect x="185.1" y="8.2" width="3.6" height="12.3" rx="0.8" stroke-width="1.1"/>
 <rect x="192.6" y="11.3" width="3.6" height="6.4" rx="0.8" stroke-width="1.1"/>
 <path d="M225.4 12.5 L230.2 7.6 L233.9 10.7 L240.9 6.3" stroke-width="1.15"/>
 <path d="M225.8 22.6 V19 A0.9 0.9 0 0 1 226.7 18.1 H228.4 A0.9 0.9 0 0 1 229.3 19 V22.6 M229.3 22.6 V16.3 A0.9 0.9 0 0 1 230.2 15.4 H232.1 A0.9 0.9 0 0 1 233 16.3 V22.6 M233 22.6 V18.6 A0.9 0.9 0 0 1 233.9 17.7 H235.8 A0.9 0.9 0 0 1 236.7 18.6 V22.6 M236.7 22.6 V13.4 A0.9 0.9 0 0 1 237.6 12.5 H239.6 A0.9 0.9 0 0 1 240.5 13.4 V22.6 Z M225.8 22.6 H240.5" stroke-width="1.1"/>
 <rect x="325.4" y="7.3" width="6.2" height="6" rx="1.6" stroke-width="1.25"/>
 <rect x="333.9" y="7.3" width="6.2" height="6" rx="1.6" stroke-width="1.25"/>
 <rect x="325.4" y="15.5" width="6.2" height="6" rx="1.6" stroke-width="1.25"/>
 <rect x="333.9" y="15.5" width="6.2" height="6" rx="1.6" stroke-width="1.25"/>
 <path d="M382.8 14.7 A7.3 7.3 0 1 0 375.5 22" stroke-width="1.15"/>
 <path d="M375.8 9.8 V15 H372.9" stroke-width="1.1"/>
 <path d="M366.9 9.7 L370.5 6.1 M381.1 6.1 L384.7 9.9" stroke-width="1.1"/>
 <path d="M381.1 16.4 V24.2 M376.9 20.3 H385.3" stroke-width="1.15"/>
 <path d="M447.7 9.7 L442.3 15 L447.7 20.2 Z M455.3 9.4 L449.8 15 L455.3 20.3 Z" stroke-width="1.2" stroke-linejoin="round"/>
 <path d="M534.3 9.8 L531.4 13 L534.3 15.9" stroke-width="1.25"/>
 <path d="M531.6 13 H538.2 A4.2 4.2 0 0 1 542.4 17.2 V19.2" stroke-width="1.25"/>
 <path d="M574.5 9.8 L577.4 13 L574.5 15.9" stroke="#c3c5cb" stroke-width="1.2"/>
 <path d="M577.2 13 H570.4 A4.2 4.2 0 0 0 566.2 17.2 V19.2" stroke="#c3c5cb" stroke-width="1.2"/>
</svg>
<div class="tb" style="left:25px;top:-1.5px;font-weight:bold;font-size:12.2px">IXIC</div>
<div class="tb" style="left:143.5px;top:-1.3px;font-size:12.4px;-webkit-text-stroke:0.35px #131722">D</div>
<div class="tb" style="left:250px;top:-1.5px;font-size:13.2px">Indicators</div>
<div class="tb" style="left:393px;top:-1.5px;font-size:13.2px">Alert</div>
<div class="tb" style="left:465px;top:-1.5px;font-size:12.6px">Replay</div>

<!-- legend -->
<div class="abs" style="left:0;top:41px;width:187px;height:58px;background:#fff"></div>
<div class="abs" style="left:6.3px;top:43.5px;width:36px;height:14.5px;border-radius:7.5px;background:#ebebeb"></div>
<div class="abs" style="left:24.4px;top:43.5px;width:18px;height:14.5px;border-radius:0 7.5px 7.5px 0;background:#fdd9a0"></div>
<div class="abs" style="left:11.2px;top:49.6px;width:9.6px;height:3px;border-radius:1.5px;background:#8a8c93"></div>
<div class="abs" style="left:24.4px;top:43px;width:17px;height:15px;font-size:11.2px;line-height:15px;text-align:center;color:#e39a24;font-weight:bold">D</div>
<div class="abs" style="left:50.5px;top:44px;font-size:11.3px;line-height:14px;color:#2f9e8f;white-space:nowrap">+99.37 (+0.44%)</div>
<div class="abs" style="left:6.3px;top:65.2px;width:73.2px;height:31.6px;border:1.2px solid #dda3aa;border-radius:5px;background:#fff"></div>
<div class="abs" style="left:6.3px;top:68.4px;width:73.2px;text-align:center;font-size:11.7px;line-height:13px;font-weight:bold;color:#c8323f;white-space:nowrap">22,484.07</div>
<div class="abs" style="left:6.3px;top:81.6px;width:73.2px;text-align:center;font-size:10.2px;line-height:12px;letter-spacing:-0.3px;-webkit-text-stroke:0.2px #c6646e;color:#c6646e;white-space:nowrap">SELL</div>
<div class="abs" style="left:86.3px;top:74.8px;font-size:9.6px;line-height:12px;color:#2a2e39;white-space:nowrap">0.00</div>
<div class="abs" style="left:111.9px;top:65.2px;width:72.6px;height:31.6px;border:1.2px solid #94a3d3;border-radius:5px;background:#fff"></div>
<div class="abs" style="left:111.9px;top:68.4px;width:72.6px;text-align:center;font-size:11.7px;line-height:13px;font-weight:bold;color:#3150b8;white-space:nowrap">22,484.07</div>
<div class="abs" style="left:111.9px;top:81.6px;width:72.6px;text-align:center;font-size:10.2px;line-height:12px;letter-spacing:-0.3px;-webkit-text-stroke:0.2px #5d77c4;color:#5d77c4;white-space:nowrap">BUY</div>

<!-- price axis -->
<div class="pl" style="top:52.5px">24,000.00</div><div class="pl" style="top:124.3px">23,000.00</div><div class="pl" style="top:196.1px">22,000.00</div><div class="pl" style="top:268.0px">21,000.00</div><div class="pl" style="top:339.8px">20,000.00</div><div class="pl" style="top:411.6px">19,000.00</div><div class="pl" style="top:483.5px">18,000.00</div><div class="pl" style="top:555.3px">17,000.00</div><div class="pl" style="top:627.1px">16,000.00</div><div class="pl" style="top:699.0px">15,000.00</div><div class="pl" style="top:770.8px">14,000.00</div>
<div class="abs" style="left:1341.5px;top:40.5px;width:97px;height:23px;background:#fff;border-radius:4px;box-shadow:0 0 2px rgba(0,0,0,0.10)"></div>
<div class="abs" style="left:1344.5px;top:45.5px;font-size:11.6px;line-height:13px;color:#131722;transform:scaleX(0.82);transform-origin:0 0">USD</div>
<svg class="abs" style="left:1428px;top:49px" width="7" height="5" viewBox="0 0 7 5"><path d="M1 1 L3.5 3.5 L6 1" fill="none" stroke="#131722" stroke-width="1.2"/></svg>
<div class="abs" style="left:1293px;top:161.5px;width:145.5px;height:25.5px;background:#26a69a;border-radius:2px"></div>
<div class="abs" style="left:1299px;top:163px;font-size:18px;line-height:23px;color:#fff;white-space:nowrap;letter-spacing:-1px">IXIC</div>
<div class="abs" style="left:1308px;top:163px;width:122.5px;text-align:right;font-size:18px;line-height:23px;color:#fff;white-space:nowrap">22,484.07</div>
<div class="abs" style="left:1337px;top:161px;width:1px;height:27px;background:#2d5e59"></div>

<!-- logo -->
<svg class="abs" style="left:9px;top:799px" width="29" height="16" viewBox="0 0 29 16"><g fill="#131722" stroke="#fff" stroke-width="1.6" paint-order="stroke"><path d="M0.45 1H11.3V14.6H6V6H0.45z"/><circle cx="16.2" cy="4.1" r="2.65"/><path d="M21 1H27.85L23.5 14.6H16.6z"/></g></svg>
<div class="abs" style="left:43px;top:796px;font-size:19px;line-height:21px;font-weight:bold;color:#131722;white-space:nowrap">TradingView</div>

<svg class="abs" style="left:1080px;top:798px" width="35" height="30" viewBox="0 0 35 30"><circle cx="16.7" cy="16.2" r="9.1" fill="#fff" stroke="#8e2aa8" stroke-width="1.3"/><path d="M19.75 11.9 L14.05 16.7 L20.3 16.4 L13.9 21.35" fill="none" stroke="#8e2aa8" stroke-width="1.5" stroke-linejoin="round"/></svg>

<!-- time axis -->
<div class="tl" style="left:-21.5px">Nov</div><div class="tl b" style="left:71.0px">2024</div><div class="tl" style="left:164.0px">Mar</div><div class="tl" style="left:259.0px">May</div><div class="tl" style="left:352.0px">Jul</div><div class="tl" style="left:451.5px">Sep</div><div class="tl" style="left:549.0px">Nov</div><div class="tl b" style="left:642.0px">2025</div><div class="tl" style="left:730.0px">Mar</div><div class="tl" style="left:825.5px">May</div><div class="tl" style="left:918.0px">Jul</div><div class="tl" style="left:1015.5px">Sep</div><div class="tl" style="left:1115.5px">Nov</div><div class="tl b" style="left:1208.5px">2026</div><div class="tl" style="left:1296.5px">Mar</div>
<div class="abs" style="left:1338px;top:828px;width:102px;height:39px;background:#fff"></div>
<svg class="abs" style="left:1375px;top:832px" width="30" height="30" viewBox="0 0 30 30"><path d="M11.5 9.3 H19 L21.7 15.35 L19 21.35 H11.5 L8.85 15.35 Z" fill="none" stroke="#131722" stroke-width="1.2" stroke-linejoin="round"/><circle cx="15.35" cy="15.35" r="1.9" fill="none" stroke="#131722" stroke-width="1.2"/></svg>

<!-- bottom toolbar -->
<div class="bt" style="left:12px">1D</div>
<div class="bt" style="left:37.5px">5D</div>
<div class="bt" style="left:63.5px">1M</div>
<div class="bt" style="left:90px">3M</div>
<div class="bt" style="left:116px">6M</div>
<div class="bt" style="left:143.5px">YTD</div>
<div class="bt" style="left:177.5px">1Y</div>
<div class="bt" style="left:202.5px">5Y</div>
<div class="bt" style="left:227.5px">All</div>
<div class="abs" style="left:252px;top:877px;width:1px;height:16px;background:#e0e3eb"></div>
<svg class="abs" style="left:255px;top:868px" width="40" height="31" viewBox="0 0 40 31"><path d="M11 15.3 V11.8 A1.5 1.5 0 0 1 12.5 10.3 H25.2 A1.5 1.5 0 0 1 26.7 11.8 V22.3 A1.5 1.5 0 0 1 25.2 23.8 H19" fill="none" stroke="#131722" stroke-width="1.3"/><path d="M11 14 H26.7" stroke="#131722" stroke-width="1.2"/><path d="M15.5 8.3 V11 M22 8.3 V11" stroke="#131722" stroke-width="1.4"/><path d="M10 21.4 H16.5 M13.4 18.1 L16.6 21.4 L13.4 24.6" fill="none" stroke="#131722" stroke-width="1.25"/></svg>
<div class="bt" style="left:1342.5px;font-size:12.4px">12:49:22 UTC+1</div>
</body></html>
